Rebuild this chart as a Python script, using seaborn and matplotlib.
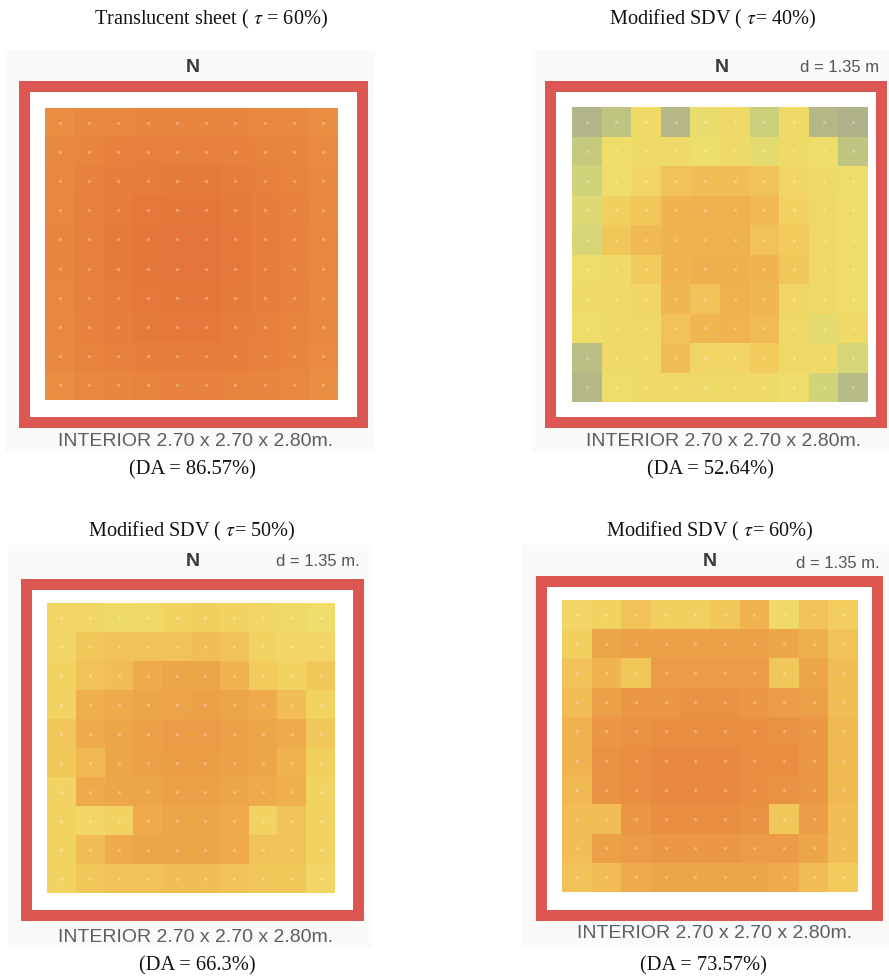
import numpy as np
import pandas as pd
import seaborn as sns
import matplotlib.pyplot as plt
from matplotlib.colors import LinearSegmentedColormap
from matplotlib.patches import Rectangle

sns.set_theme(style="white")
plt.rcParams["mathtext.fontset"] = "stix"

# ---- data: daylight autonomy per sensor point (%), 10 x 10 grid, north at top ----
titles = [
    "Translucent sheet ( $\\tau$ = 60%)",
    "Modified SDV ( $\\tau$= 40%)",
    "Modified SDV ( $\\tau$= 50%)",
    "Modified SDV ( $\\tau$= 60%)",
]
da_labels = ["(DA = 86.57%)", "(DA = 52.64%)", "(DA = 66.3%)", "(DA = 73.57%)"]
room_label = "INTERIOR 2.70 x 2.70 x 2.80m."
spacing_label = ["", "d = 1.35 m", "d = 1.35 m.", "d = 1.35 m."]

sheet_60 = [
    [82, 84, 85, 86, 86, 86, 86, 85, 84, 82],
    [84, 86, 88, 89, 89, 89, 88, 87, 86, 83],
    [85, 88, 90, 91, 92, 92, 91, 89, 87, 84],
    [85, 89, 91, 93, 94, 94, 92, 90, 88, 84],
    [86, 89, 92, 94, 95, 95, 93, 91, 88, 85],
    [86, 89, 92, 94, 95, 95, 93, 91, 88, 85],
    [85, 89, 91, 93, 94, 94, 92, 90, 88, 84],
    [85, 88, 90, 92, 93, 93, 91, 89, 87, 84],
    [84, 87, 89, 90, 91, 91, 90, 88, 86, 83],
    [82, 85, 86, 87, 88, 88, 87, 86, 85, 82],
]
sdv_40 = [
    [25, 30, 48, 26, 44, 48, 34, 48, 26, 24],
    [32, 47, 48, 48, 45, 48, 42, 48, 47, 30],
    [36, 46, 50, 60, 62, 62, 60, 50, 48, 47],
    [40, 54, 58, 66, 67, 67, 64, 52, 49, 47],
    [38, 58, 64, 66, 67, 67, 60, 56, 49, 47],
    [47, 48, 56, 66, 68, 68, 66, 58, 49, 47],
    [48, 49, 50, 65, 60, 67, 65, 50, 49, 47],
    [47, 48, 49, 60, 65, 66, 63, 49, 42, 48],
    [28, 48, 48, 62, 50, 50, 56, 49, 48, 38],
    [26, 46, 48, 48, 48, 48, 48, 46, 36, 27],
]
sdv_50 = [
    [50, 50, 48, 49, 52, 54, 53, 50, 49, 47],
    [50, 58, 60, 60, 60, 62, 60, 52, 50, 50],
    [52, 60, 62, 70, 72, 72, 66, 56, 52, 58],
    [52, 68, 70, 72, 73, 74, 72, 70, 62, 52],
    [58, 70, 72, 74, 76, 76, 74, 72, 70, 58],
    [58, 64, 72, 74, 75, 75, 74, 72, 66, 54],
    [52, 70, 72, 72, 74, 74, 72, 70, 68, 52],
    [52, 50, 52, 70, 72, 72, 70, 52, 60, 52],
    [52, 62, 70, 72, 72, 72, 70, 60, 60, 52],
    [52, 58, 60, 60, 62, 62, 60, 58, 58, 50],
]
sdv_60 = [
    [50, 52, 60, 54, 54, 58, 66, 48, 60, 55],
    [54, 72, 74, 74, 74, 74, 74, 72, 68, 60],
    [60, 66, 58, 76, 76, 76, 76, 58, 72, 62],
    [62, 74, 78, 78, 80, 80, 78, 76, 74, 62],
    [66, 78, 80, 82, 82, 82, 82, 80, 78, 64],
    [66, 80, 82, 84, 84, 84, 82, 82, 78, 64],
    [64, 80, 82, 84, 84, 84, 82, 80, 78, 64],
    [62, 62, 78, 82, 82, 82, 80, 58, 76, 62],
    [62, 74, 76, 78, 78, 78, 76, 76, 72, 62],
    [60, 62, 70, 72, 72, 72, 72, 70, 62, 56],
]
grids = [sheet_60, sdv_40, sdv_50, sdv_60]

# ---- colour scale: grey-olive (low DA) -> yellow -> orange -> red-orange (high DA) ----
VMIN, VMAX = 20, 100
stops = [(20, "#a5a78e"), (35, "#cdd27a"), (45, "#eedf6c"), (55, "#f3ce5e"),
         (65, "#f0b650"), (75, "#ec9e47"), (85, "#e9873f"), (95, "#e5753a"),
         (100, "#e26d37")]
cmap = LinearSegmentedColormap.from_list(
    "da", [((v - VMIN) / (VMAX - VMIN), c) for v, c in stops])

# ---- layout in pixels ----
W, H = 889, 976
fig = plt.figure(figsize=(W / 100, H / 100), dpi=100)
fig.patch.set_facecolor("white")

def fx(x):
    return x / W

def fy(y):
    return 1 - y / H

def rect(x0, y0, x1, y1):
    return [x0 / W, 1 - y1 / H, (x1 - x0) / W, (y1 - y0) / H]

layout = [
    dict(title=(211, 19), north=(193, 67), dlab=None, frame=(18, 81, 367, 427),
         heat=(45, 108, 338, 400), room=(196, 442), da=(192, 470), bg=(5, 50, 375, 452)),
    dict(title=(713, 19), north=(722, 67), dlab=(840, 68), frame=(544, 81, 886, 427),
         heat=(572, 107, 868, 402), room=(724, 442), da=(710, 470), bg=(532, 50, 889, 452)),
    dict(title=(192, 531), north=(193, 561), dlab=(318, 562), frame=(20, 578, 363, 920),
         heat=(47, 603, 335, 893), room=(196, 937), da=(197, 966), bg=(8, 545, 372, 948)),
    dict(title=(710, 531), north=(710, 561), dlab=(838, 563), frame=(535, 575, 882, 920),
         heat=(562, 600, 858, 892), room=(715, 934), da=(703, 966), bg=(522, 545, 889, 948)),
]

RED = "#dc5752"
BAND = 11  # frame band thickness in px

for k, (grid, lay) in enumerate(zip(grids, layout)):
    # faint backdrop of the floor-plan drawing
    bx0, by0, bx1, by1 = lay["bg"]
    fig.add_artist(Rectangle((fx(bx0), fy(by1)), (bx1 - bx0) / W, (by1 - by0) / H,
                             transform=fig.transFigure, facecolor="#fafaf9",
                             edgecolor="none", zorder=0))

    # red room outline
    x0, y0, x1, y1 = lay["frame"]
    h = BAND / 2
    fig.add_artist(Rectangle((fx(x0 + h), fy(y1 - h)), (x1 - x0 - BAND) / W,
                             (y1 - y0 - BAND) / H, transform=fig.transFigure,
                             facecolor="white", edgecolor=RED,
                             linewidth=BAND * 72 / 100, zorder=1))

    # daylight autonomy grid
    ax = fig.add_axes(rect(*lay["heat"]))
    ax.set_zorder(2)
    df = pd.DataFrame(grid, index=range(1, 11), columns=range(1, 11))
    sns.heatmap(df, ax=ax, cmap=cmap, vmin=VMIN, vmax=VMAX, cbar=False,
                xticklabels=False, yticklabels=False, linewidths=0)
    # sensor points
    n = df.shape[0]
    cx, cy = np.meshgrid(np.arange(n) + 0.5, np.arange(n) + 0.5)
    ax.scatter(cx.ravel(), cy.ravel(), s=5, color="white", alpha=0.3,
               linewidths=0, zorder=3)
    ax.set_xlabel("")
    ax.set_ylabel("")

    # annotations
    fig.text(fx(lay["title"][0]), fy(lay["title"][1]), titles[k],
             family="Liberation Serif", fontsize=14.6, color="#111111",
             ha="center", va="center")
    fig.text(fx(lay["north"][0]), fy(lay["north"][1]), "N",
             family="Liberation Sans", fontsize=14, fontweight="bold",
             color="#3a3a3a", ha="center", va="center")
    if lay["dlab"] is not None:
        fig.text(fx(lay["dlab"][0]), fy(lay["dlab"][1]), spacing_label[k],
                 family="Liberation Sans", fontsize=12, color="#555555",
                 ha="center", va="center")
    fig.text(fx(lay["room"][0]), fy(lay["room"][1]), room_label,
             family="Liberation Sans", fontsize=14, color="#5e5e5e",
             ha="center", va="center")
    fig.text(fx(lay["da"][0]), fy(lay["da"][1]), da_labels[k],
             family="Liberation Serif", fontsize=14.8, color="#111111",
             ha="center", va="center")

fig.savefig("out.png", dpi=100, facecolor="white")
